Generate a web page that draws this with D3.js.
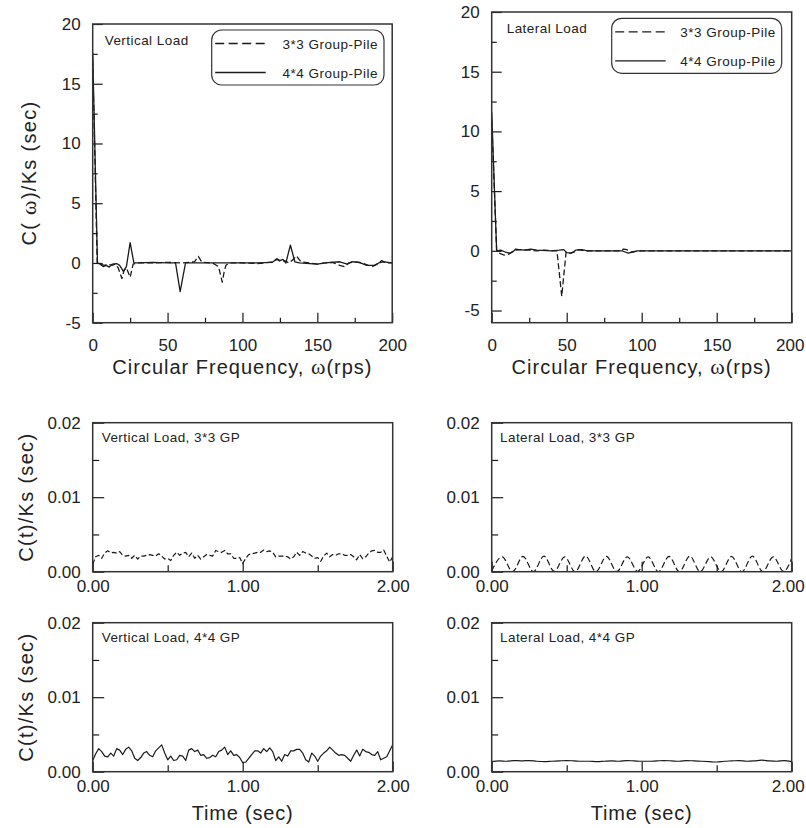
<!DOCTYPE html>
<html>
<head>
<meta charset="utf-8">
<script src="https://cdn.jsdelivr.net/npm/d3@7"></script>
<style>
  body { margin: 0; background: #fff; }
  svg text { font-family: "Liberation Sans", Arial, Helvetica, sans-serif; fill: #222; }
</style>
</head>
<body>
<svg id="fig" width="806" height="828"></svg>
<script>
// ---------- frequency-domain compliance C(ω)/Ks, [ω (rps), value (sec)] ----------
const vertical33Freq = [[0,17.0],[3,0],[5,-0.1],[8,-0.2],[10,-0.1],[13,-0.2],[15,-0.1],[17,-0.4],[19.5,-1.3],[21,-0.6],[22.5,-0.4],[25,-1.2],[27,-0.1],[30,0],[40,0],[50,0.05],[60,0],[68,0.1],[70.5,0.55],[73,0.05],[80,0],[84,-0.3],[86.5,-1.6],[88,-0.6],[89,-0.2],[91,0],[100,0],[110,-0.05],[115,0],[120,0.1],[123,0.3],[126,0.1],[128,0.2],[131,0],[134,0.3],[136,0.6],[139,0.1],[145,0],[150,-0.1],[155,0],[160,0.05],[165,-0.2],[168,-0.3],[171,0],[175,0.1],[180,0],[184,-0.2],[187,-0.3],[190,-0.1],[193,0.2],[196,0],[200,0]];
const vertical44Freq = [[0,17.6],[3.2,0],[5,-0.1],[7,-0.3],[9,-0.2],[11,-0.35],[13,-0.1],[16,-0.05],[18,-0.2],[20.5,-0.7],[22.5,-0.3],[25,1.7],[27.5,0],[30,0],[40,0.05],[50,0],[55.3,0],[58.4,-2.4],[62,0],[65,0],[75,0],[90,0],[100,0],[110,0],[120,0.05],[123,0.35],[125,0.2],[127,0.3],[129,0],[132,1.5],[135,0.1],[138,0],[145,-0.05],[150,-0.1],[155,0],[165,0.1],[170,-0.1],[173,0.1],[178,0.05],[183,-0.2],[188,-0.2],[191,0],[194,0.1],[197,0.05],[200,0]];
const lateral33Freq = [[0,11.0],[3.3,0],[5,-0.2],[8,-0.35],[11,-0.3],[13,-0.15],[15,0.05],[20,0.1],[25,0.05],[30,0],[35,0.05],[43.5,0],[46.7,-3.8],[49.6,-0.1],[52,-0.2],[55,-0.1],[58,0.1],[62,0],[85,0],[88,0.15],[90,0.1],[93,-0.1],[96,-0.05],[100,0],[200,0]];
const lateral44Freq = [[0,11.6],[3.3,0],[6,0.05],[9,-0.1],[12,-0.2],[14,-0.1],[16,0.15],[18,0.1],[22,0.05],[26,0.15],[30,0.05],[40,0],[45,0.05],[48,0.1],[50,-0.15],[53,-0.2],[56,0.05],[60,0.1],[64,0],[87,0],[89,-0.1],[91,-0.2],[94,-0.1],[97,0],[200,0]];

// ---------- time-domain compliance C(t)/Ks, values in 1e-3 sec ----------
const timeStep = 0.02;   // sampling of the vertical-load records (sec)
const vertical33Time = [1.0,2.0,2.2,1.8,2.5,2.8,2.55,2.6,2.5,2.7, 2.2,2.1,2.2,1.8,2.2,1.7,2.1,2.1,2.2,2.3, 2.2,2.1,2.4,2.1,1.7,1.8,1.5,2.2,2.6,2.2, 2.5,2.6,2.0,2.5,1.8,2.2,1.7,2.0,2.3,2.2, 2.1,2.85,2.7,2.6,2.85,2.4,2.4,1.8,1.8,1.9, 1.1, 1.8,2.3,2.4,2.5,2.6,2.6,2.9,2.7,2.8,2.6, 2.0,2.1,2.1,2.1,2.0,1.7,2.0,2.6,2.2,2.7, 2.5,2.4,2.1,1.8,1.9,1.4,2.1,2.5,2.0,2.3, 2.2,2.4,2.4,2.2,2.2,2.3,2.0,1.6,2.3,1.75, 2.0,2.5,2.8,2.85,2.6,2.6,2.9,2.1,1.3,2.0];
const vertical44Time = [1.5,2.4,3.1,2.7,2.1,2.0,2.5,2.1,3.1,2.9, 2.3,3.0,3.3,2.8,1.8,1.5,1.9,2.5,2.7,2.2, 2.0,2.8,3.2,3.6,2.5,1.6,2.1,1.5,1.6,2.2, 2.1,1.5,2.9,3.1,2.7,2.9,2.2,2.3,1.8,1.9, 2.2,2.0,2.7,2.9,3.3,2.3,2.8,2.2,2.3,1.9, 1.2, 1.3,1.8,2.3,2.8,2.8,2.5,3.1,2.7,3.2,2.7, 1.5,2.0,1.4,2.3,2.1,2.8,2.8,3.0,3.0,2.5, 1.6,1.3,2.5,2.1,1.4,2.1,2.5,2.8,3.3,2.9, 2.5,2.2,2.3,2.2,1.8,1.4,2.2,2.9,2.1,3.0, 2.7,2.6,2.3,2.2,2.7,1.6,1.8,2.0,2.8,3.6];
// lateral 3*3: successive troughs and crests [t (sec), value]
const lateral33Time = [[0,0.1],[0.07,2.0],[0.139,0],[0.209,2.05],[0.278,0],[0.348,2.1],[0.417,0.05],[0.487,2.0],[0.556,0],[0.626,2.1],[0.695,0],[0.765,2.05],[0.834,0],[0.904,2.0],[0.973,0.05],[1.043,2.0],[1.112,0],[1.182,2.05],[1.251,0],[1.321,2.1],[1.39,0],[1.46,2.0],[1.529,0],[1.599,2.05],[1.668,0],[1.738,2.1],[1.807,0],[1.877,2.0],[1.946,0.05],[2.0,1.8]];
const lateralStep = 0.05;
const lateral44Time = [1.35,1.45,1.4,1.5,1.45,1.5,1.4,1.35,1.4,1.45, 1.5,1.45,1.4,1.4,1.35,1.4,1.45,1.4,1.5,1.45, 1.4,1.4,1.45,1.5,1.45,1.4,1.5,1.45,1.4,1.35, 1.3,1.4,1.45,1.5,1.4,1.45,1.55,1.45,1.4,1.5, 1.35];

// ---------- ticks ----------
const freqMajor = [0, 50, 100, 150, 200];
const freqMinor = [25, 75, 125, 175];
const freqYMajor = [-5, 0, 5, 10, 15, 20];
const freqYMinor = [-2.5, 2.5, 7.5, 12.5, 17.5];
const timeMajor = [0, 1, 2];
const timeMinor = [0.5, 1.5];
const respMajor = [0, 0.01, 0.02];
const respMinor = [0.005, 0.015];

const seriesNames = ["3*3 Group-Pile", "4*4 Group-Pile"];

const svg = d3.select("#fig");
const INK = "#1a1a1a";
const FONT = "'Liberation Sans', Arial, Helvetica, sans-serif";

const indexed = (vals, step) => vals.map((v, i) => [i * step, v]);
const milli = arr => arr.map(d => [d[0], d[1] / 1000]);

function panel(p) {
  const g = svg.append("g").attr("transform", `translate(${p.left},${p.top})`);
  const x = d3.scaleLinear().domain(p.xDomain).range([0, p.width]);
  const y = d3.scaleLinear().domain(p.yDomain).range([p.height, 0]);

  const clipId = "clip-" + p.id;
  g.append("clipPath").attr("id", clipId)
    .append("rect").attr("x", 0).attr("y", 0).attr("width", p.width).attr("height", p.height);

  const styleAxis = sel => {
    sel.attr("font-size", 17).attr("font-family", FONT).attr("color", INK);
    sel.select(".domain").remove();
    sel.selectAll(".tick line").attr("stroke-width", 1.2);
  };

  g.append("g").call(d3.axisLeft(y).tickValues(p.yMinor).tickSize(-p.yMinorLen).tickFormat("")).call(styleAxis);
  g.append("g").call(d3.axisLeft(y).tickValues(p.yMajor).tickSize(-p.yMajorLen).tickPadding(12).tickFormat(p.yFmt)).call(styleAxis);
  g.append("g").attr("transform", `translate(0,${p.height})`)
    .call(d3.axisBottom(x).tickValues(p.xMinor).tickSize(-p.xMinorLen).tickFormat("")).call(styleAxis);
  const xAxis = g.append("g").attr("transform", `translate(0,${p.height})`)
    .call(d3.axisBottom(x).tickValues(p.xMajor).tickSize(-p.xMajorLen).tickPadding(p.xPad).tickFormat(p.xFmt)).call(styleAxis);
  // the last label of a right-hand panel sits against the page edge
  if (p.edgeShift) {
    xAxis.selectAll(".tick text").filter(d => d === p.xDomain[1]).attr("dx", -p.edgeShift);
  }

  const plot = g.append("g").attr("clip-path", `url(#${clipId})`);
  p.series.forEach(s => {
    plot.append("path")
      .datum(s.data)
      .attr("fill", "none")
      .attr("stroke", INK)
      .attr("stroke-width", s.width || 1.3)
      .attr("stroke-linejoin", "round")
      .attr("stroke-dasharray", s.dash || null)
      .attr("d", d3.line().x(d => x(d[0])).y(d => y(d[1])).curve(s.curve || d3.curveLinear));
  });

  g.append("rect")
    .attr("x", 0).attr("y", 0).attr("width", p.width).attr("height", p.height)
    .attr("fill", "none").attr("stroke", "#333").attr("stroke-width", 1.5);

  g.append("text")
    .attr("x", p.noteX).attr("y", p.noteY)
    .attr("font-size", 13.5).attr("letter-spacing", 0.45)
    .text(p.note);

  return { g, x, y };
}

// plain hyphen-minus for negative tick values
const fmtInt = d => String(d);
const fmt2 = d => d.toFixed(2);

const freqPanels = [
  { id: "vf", left: 92.7, top: 24, width: 299.5, height: 298.7, yDomain: [-5, 20],
    s33: vertical33Freq, s44: vertical44Freq, note: "Vertical Load", noteX: 12, noteY: 21,
    legend: { x: 119, y: 6, w: 172.3, h: 55 }, edgeShift: 0 },
  { id: "lf", left: 491.7, top: 12, width: 300, height: 310.7, yDomain: [-6.02, 20],
    s33: lateral33Freq, s44: lateral44Freq, note: "Lateral Load", noteX: 15, noteY: 21,
    legend: { x: 120, y: 6.3, w: 170, h: 55 }, edgeShift: 2 }
];

freqPanels.forEach(fp => {
  const { g } = panel({
    id: fp.id, left: fp.left, top: fp.top, width: fp.width, height: fp.height,
    xDomain: [0, 200], yDomain: fp.yDomain,
    xMajor: freqMajor, xMinor: freqMinor, yMajor: freqYMajor, yMinor: freqYMinor,
    xMajorLen: 10, xMinorLen: 5, yMajorLen: 10, yMinorLen: 5, xPad: 16,
    xFmt: fmtInt, yFmt: fmtInt, edgeShift: fp.edgeShift,
    series: [
      { data: fp.s33, dash: "6,3" },
      { data: fp.s44 }
    ],
    note: fp.note, noteX: fp.noteX, noteY: fp.noteY
  });

  // legend
  const L = fp.legend;
  const lg = g.append("g").attr("transform", `translate(${L.x},${L.y})`);
  lg.append("rect").attr("width", L.w).attr("height", L.h).attr("rx", 10).attr("ry", 10)
    .attr("fill", "#fff").attr("stroke", "#333").attr("stroke-width", 1.2);
  seriesNames.forEach((name, i) => {
    const yy = 13.5 + i * 29;
    lg.append("line").attr("x1", 3.5).attr("x2", 54).attr("y1", yy).attr("y2", yy)
      .attr("stroke", INK).attr("stroke-width", 1.3)
      .attr("stroke-dasharray", i === 0 ? "9,4.5" : null);
    lg.append("text").attr("x", L.w - 6).attr("y", yy + 5)
      .attr("text-anchor", "end").attr("font-size", 13.5).attr("letter-spacing", 0.5)
      .text(name);
  });

  // x-axis title
  const xt = svg.append("text")
    .attr("x", fp.left + fp.width / 2).attr("y", 374)
    .attr("text-anchor", "middle").attr("font-size", 20).attr("letter-spacing", 1);
  xt.append("tspan").text("Circular Frequency, ");
  xt.append("tspan").attr("font-family", "'Liberation Serif', 'Times New Roman', serif").attr("font-size", 22).text("ω");
  xt.append("tspan").text("(rps)");
});

// y title, vertical frequency panel
{
  const yt = svg.append("text")
    .attr("transform", "translate(36,173) rotate(-90)")
    .attr("text-anchor", "middle").attr("font-size", 20).attr("letter-spacing", 1.3);
  yt.append("tspan").text("C( ");
  yt.append("tspan").attr("font-family", "'Liberation Serif', 'Times New Roman', serif").attr("font-size", 22).text("ω");
  yt.append("tspan").text(")/Ks (sec)");
}

const timePanels = [
  { id: "v33", left: 92.7, top: 422.7, data: milli(indexed(vertical33Time, timeStep)), dash: "5,2.5", note: "Vertical Load, 3*3 GP", noteX: 9, showTitle: false, yTitle: true, edgeShift: 0 },
  { id: "l33", left: 491.7, top: 422.7, data: milli(lateral33Time), dash: "6,3", curve: d3.curveMonotoneX, note: "Lateral Load, 3*3 GP", noteX: 8.3, showTitle: false, yTitle: false, edgeShift: 4 },
  { id: "v44", left: 92.7, top: 622.7, data: milli(indexed(vertical44Time, timeStep)), note: "Vertical Load, 4*4 GP", noteX: 9, showTitle: true, yTitle: true, edgeShift: 0 },
  { id: "l44", left: 491.7, top: 622.7, data: milli(indexed(lateral44Time, lateralStep)), curve: d3.curveMonotoneX, note: "Lateral Load, 4*4 GP", noteX: 8.3, showTitle: true, yTitle: false, edgeShift: 4 }
];

timePanels.forEach(tp => {
  panel({
    id: tp.id, left: tp.left, top: tp.top, width: 300, height: 149,
    xDomain: [0, 2], yDomain: [0, 0.02],
    xMajor: timeMajor, xMinor: timeMinor, yMajor: respMajor, yMinor: respMinor,
    xMajorLen: 10, xMinorLen: 6.5, yMajorLen: 11.5, yMinorLen: 6.5, xPad: 8,
    xFmt: fmt2, yFmt: fmt2, edgeShift: tp.edgeShift,
    series: [{ data: tp.data, dash: tp.dash, curve: tp.curve, width: 1.2 }],
    note: tp.note, noteX: tp.noteX, noteY: 19
  });
  if (tp.showTitle) {
    svg.append("text")
      .attr("x", tp.left + 150).attr("y", 820)
      .attr("text-anchor", "middle").attr("font-size", 20).attr("letter-spacing", 0.8)
      .text("Time (sec)");
  }
  if (tp.yTitle) {
    svg.append("text")
      .attr("transform", `translate(33,${tp.top + 74.5}) rotate(-90)`)
      .attr("text-anchor", "middle").attr("font-size", 20).attr("letter-spacing", 1.3)
      .text("C(t)/Ks (sec)");
  }
});
</script>
</body>
</html>
